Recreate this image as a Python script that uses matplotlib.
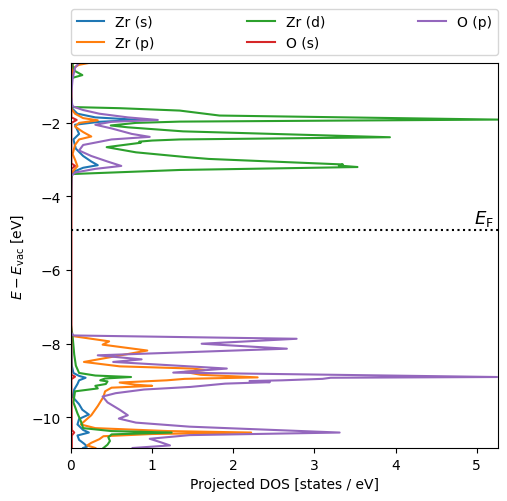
import matplotlib
matplotlib.use('Agg')
import matplotlib.pyplot as plt
import matplotlib.transforms as mtransforms

# energies (eV, vs vacuum) and projected DOS (states / eV)
E_F = -4.91

E_zr_s = [-0.37, -1.0, -1.6, -1.75, -1.85, -1.92, -1.97, -2.05, -2.2, -2.3, -2.45, -2.7, -2.9, -3.05,
          -3.15, -3.22, -3.35, -4.5, -7.8, -8.6, -8.8, -8.88, -8.93, -9.0, -9.1, -9.25, -9.45, -9.65,
          -9.8, -9.93, -10.05, -10.2, -10.35, -10.42, -10.5, -10.62, -10.72, -10.8, -10.84]
dos_zr_s = [0.02, 0.0, 0.01, 0.08, 0.3, 0.85, 0.35, 0.05, 0.08, 0.1, 0.03, 0.06, 0.15, 0.25,
            0.33, 0.15, 0.01, 0.0, 0.0, 0.01, 0.03, 0.1, 0.18, 0.1, 0.08, 0.04, 0.02, 0.1,
            0.14, 0.22, 0.1, 0.08, 0.15, 0.22, 0.08, 0.1, 0.16, 0.2, 0.15]

E_zr_p = [-0.37, -0.42, -0.5, -1.0, -1.6, -1.75, -1.87, -1.93, -2.0, -2.1, -2.25, -2.37, -2.45, -2.6,
          -2.85, -3.0, -3.18, -3.3, -3.4, -4.5, -7.7, -7.8, -7.94, -8.03, -8.19, -8.5, -8.62, -8.68,
          -8.72, -8.77, -8.85, -8.92, -8.96, -9.0, -9.06, -9.12, -9.15, -9.2, -9.3, -9.45, -9.7,
          -9.95, -10.2, -10.3, -10.38, -10.42, -10.46, -10.52, -10.6, -10.7, -10.77, -10.84]
dos_zr_p = [0.22, 0.1, 0.03, 0.0, 0.0, 0.05, 0.15, 0.33, 0.1, 0.05, 0.15, 0.25, 0.1, 0.05,
            0.02, 0.05, 0.08, 0.03, 0.0, 0.0, 0.0, 0.03, 0.47, 0.39, 0.94, 0.16, 0.6, 1.5,
            1.65, 1.4, 1.6, 2.3, 1.4, 1.18, 0.6, 0.8, 1.0, 0.5, 0.42, 0.4, 0.33,
            0.25, 0.12, 0.3, 1.2, 2.22, 1.0, 0.4, 0.35, 0.25, 0.2, 0.3]

E_zr_d = [-0.37, -0.45, -0.59, -0.70, -0.78, -1.0, -1.5, -1.57, -1.60, -1.665, -1.80, -1.91, -1.965,
          -2.0, -2.07, -2.12, -2.23, -2.39, -2.45, -2.48, -2.51, -2.54, -2.66, -2.8, -2.93, -2.98,
          -3.13, -3.16, -3.20, -3.28, -3.39, -3.5, -7.5, -7.8, -8.3, -8.6, -8.8, -8.87, -8.91, -8.95,
          -9.0, -9.03, -9.1, -9.15, -9.22, -9.3, -9.6, -9.9, -10.1, -10.3, -10.38, -10.42, -10.47,
          -10.55, -10.65, -10.75, -10.84]
dos_zr_d = [0.02, 0.02, 0.05, 0.14, 0.01, 0.0, 0.0, 0.03, 0.6, 1.34, 1.83, 5.26, 1.34,
            0.8, 0.49, 0.7, 1.38, 3.93, 1.34, 1.0, 0.84, 0.86, 0.44, 0.8, 1.42, 1.7,
            3.35, 3.3, 3.53, 1.34, 0.02, 0.0, 0.0, 0.02, 0.04, 0.06, 0.1, 0.3, 0.74, 0.42,
            0.36, 0.45, 0.43, 0.3, 0.33, 0.05, 0.03, 0.08, 0.12, 0.15, 0.5, 1.24, 0.5,
            0.46, 0.48, 0.45, 0.4]

E_o_s = [-0.37, -1.85, -1.92, -2.0, -3.1, -3.17, -3.25, -8.85, -8.9, -8.97, -10.35, -10.42, -10.5, -10.84]
dos_o_s = [0.005, 0.005, 0.07, 0.005, 0.005, 0.05, 0.005, 0.005, 0.05, 0.005, 0.01, 0.04, 0.01, 0.01]

E_o_p = [-0.37, -0.5, -0.8, -1.3, -1.55, -1.65, -1.75, -1.85, -1.92, -1.97, -2.05, -2.15, -2.3,
         -2.38, -2.45, -2.6, -2.75, -2.9, -3.05, -3.17, -3.25, -3.35, -3.45, -4.5, -7.7, -7.78,
         -7.87, -8.005, -8.14, -8.32, -8.43, -8.5, -8.68, -8.79, -8.91, -8.93, -8.96, -9.0, -9.02,
         -9.05, -9.09, -9.18, -9.25, -9.35, -9.44, -9.6, -9.8, -9.95, -10.04, -10.15, -10.26,
         -10.42, -10.49, -10.59, -10.68, -10.77, -10.84]
dos_o_p = [0.1, 0.05, 0.02, 0.0, 0.02, 0.15, 0.35, 0.7, 1.07, 0.5, 0.3, 0.5, 0.75,
           0.97, 0.5, 0.15, 0.1, 0.25, 0.45, 0.62, 0.3, 0.05, 0.0, 0.0, 0.0, 0.03,
           2.78, 1.61, 2.66, 0.33, 0.87, 0.52, 1.92, 1.26, 5.25, 3.2, 3.1, 2.6, 2.2,
           2.45, 1.9, 1.47, 0.9, 0.55, 0.39, 0.45, 0.6, 0.70, 0.59, 0.8, 1.46,
           3.31, 1.46, 0.97, 1.1, 1.22, 0.76]

fig = plt.figure(figsize=(5.07, 5.02), dpi=100)
ax = fig.add_axes([0.14, 0.1056, 0.842, 0.767])

ax.plot(dos_zr_s, E_zr_s, label='Zr (s)')
ax.plot(dos_zr_p, E_zr_p, label='Zr (p)')
ax.plot(dos_zr_d, E_zr_d, label='Zr (d)')
ax.plot(dos_o_s, E_o_s, label='O (s)')
ax.plot(dos_o_p, E_o_p, label='O (p)')

ax.axhline(E_F, color='k', ls=':')
trans = mtransforms.blended_transform_factory(ax.transAxes, ax.transData)
ax.text(0.99, E_F + 0.05, r'$E_\mathrm{F}$', transform=trans, ha='right', va='bottom', fontsize=13)

xmax = max(dos_zr_s + dos_zr_p + dos_zr_d + dos_o_s + dos_o_p)
ax.set_xlim(0, xmax)
ax.set_ylim(min(E_zr_s), max(E_zr_s))
ax.set_xlabel('Projected DOS [states / eV]')
ax.set_ylabel(r'$E - E_\mathrm{vac}$ [eV]')
ax.legend(loc='lower left', bbox_to_anchor=(0, 1.02, 1, 0.2), mode='expand', ncol=3, borderaxespad=0)

fig.savefig('out.png')
